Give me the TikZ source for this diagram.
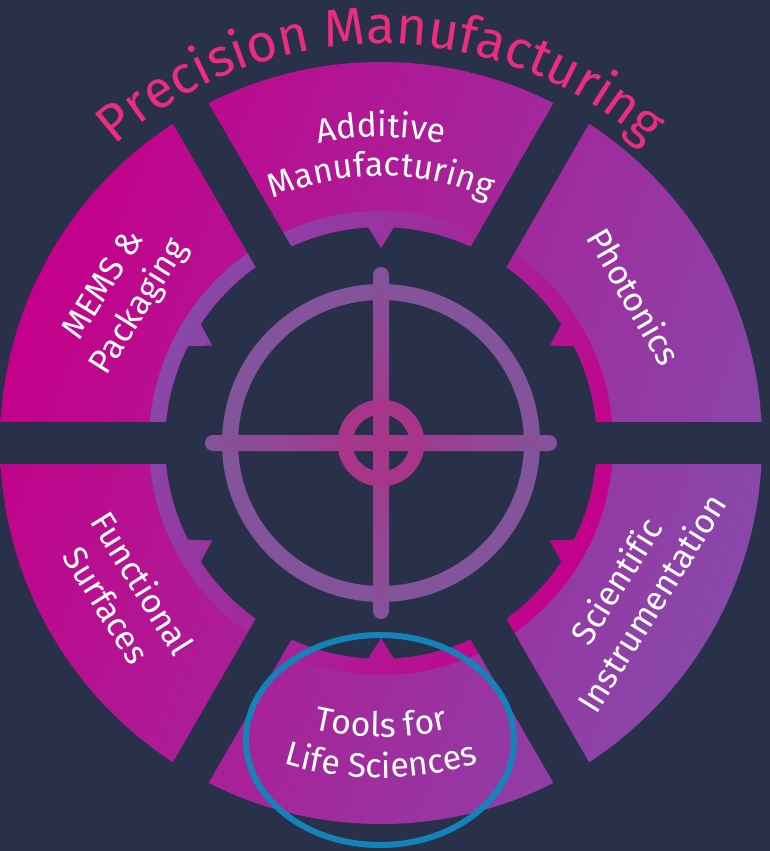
\documentclass[tikz,border=0pt]{standalone}
\usepackage{fontspec}
\setmainfont{Fira Sans}[Ligatures=NoCommon]
\usetikzlibrary{decorations.text,shapes.geometric}

\definecolor{navy}{HTML}{29304A}
\definecolor{magentaA}{HTML}{C4008A}
\definecolor{purpleA}{HTML}{8848AA}
\definecolor{ringpurple}{HTML}{83539B}
\definecolor{crosspink}{HTML}{A8358A}
\definecolor{titlepink}{HTML}{EC2C7C}
\definecolor{markblue}{HTML}{1284B8}

\newcommand\segfont{\fontsize{34}{42}\selectfont}
\newcommand\pmtitle{\fontsize{53}{60}\selectfont}

\begin{document}
\begin{tikzpicture}[x=1bp,y=1bp,
    seglabel/.style={text=white,font=\segfont,align=center},
    curved/.style={decorate,decoration={text along path,text align=center,
        text={|\segfont\color{white}|#1}}},
    gap/.style={draw=navy,line width=41bp},
    crossbar/.style={draw=ringpurple,line width=16bp}]
    \fill[navy,use as bounding box] (-381,-408) rectangle (389,443);

    % outer segments and the toothed inner band
    \shade[even odd rule,left color=magentaA,right color=purpleA,shading angle=70]
        (0,0) circle (381) (0,0) circle (216);
    \shade[even odd rule,left color=purpleA,right color=magentaA,shading angle=63]
        (0,0) circle (232) (0:216)
        \foreach \a in {30,90,...,330} {arc (\a-30:\a-3.4:216) -- (\a:195)
            -- (\a+3.4:216) arc (\a+3.4:\a+30:216)} -- cycle;
    \foreach \a in {0,60,...,300}
        \draw[gap] (\a:188) -- (\a:383);

    % crosshair
    \draw[crossbar] (0,0) circle (151);
    \shade[left color=ringpurple,right color=ringpurple,middle color=crosspink,
        rounded corners=8bp] (-176,-8) rectangle (176,8);
    \shade[top color=ringpurple,bottom color=ringpurple,middle color=crosspink,
        rounded corners=8bp] (-8,-176) rectangle (8,176);
    \draw[crossbar,draw=crosspink,line width=15bp] (0,0) circle (36);

    \node[seglabel,rotate=58] (mems) at (150.5:297) {MEMS \&\\Packaging};
    \node[seglabel,rotate=-60] (photonics) at (30:293) {Photonics};
    \node[seglabel,rotate=58] (scientific) at (-30.5:293) {Scientific\\Instrumentation};
    \node[seglabel,rotate=-58] (functional) at (210.5:297) {Functional\\Surfaces};
    \path[curved=Additive] (130:306) arc (130:50:306);
    \path[curved=Manufacturing] (130:267) arc (130:50:267);
    \path[curved=Tools for] (235:294) arc (235:305:294);
    \path[curved=Life Sciences] (235:335) arc (235:305:335);

    \path[decorate,decoration={text along path,text align=center,
        text={|\pmtitle\color{titlepink}|Precision Manufacturing}}]
        (140:399) arc (140:40:399);

    \node[draw=markblue,line width=6bp,ellipse,minimum width=268bp,
        minimum height=210bp,inner sep=0pt] (focus) at (-1,-297) {};
\end{tikzpicture}
\end{document}
